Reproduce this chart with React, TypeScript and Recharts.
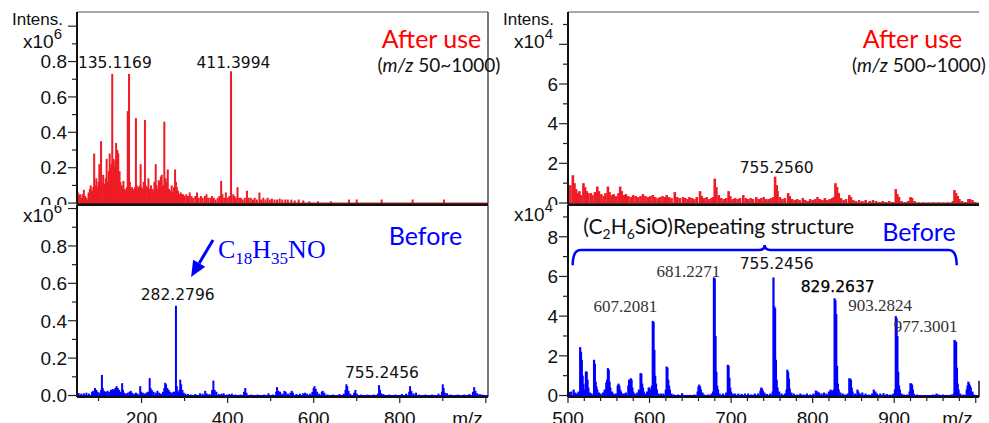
import React from 'react'
import { BarChart, Bar, XAxis, YAxis, ReferenceLine, ReferenceDot, ReferenceArea } from 'recharts'

const RED = '#ee1c25'
const BLUE = '#0000ff'
const SANS = '"Liberation Sans", Arial, sans-serif'
const DEJAVU = '"DejaVu Sans", sans-serif'
const SERIF = '"Liberation Serif", "Times New Roman", serif'
const CAL = 'Lato, "Open Sans", sans-serif'

// after use, m/z 50~1000, intensity x10^6
const afterFull: [number, number][] = [
  [52, 0.06], [55, 0.04], [57, 0.05], [60, 0.03], [63, 0.05], [66, 0.075], [69, 0.04], [72, 0.03], [74, 0.02], [77, 0.06],
  [80, 0.08], [82, 0.1], [85, 0.07], [88, 0.09], [90, 0.28], [93, 0.1], [95, 0.14], [98, 0.09], [100, 0.12], [102, 0.22],
  [104, 0.15], [106, 0.35], [108, 0.12], [111, 0.16], [114, 0.11], [117, 0.14], [119, 0.25], [122, 0.12], [124, 0.18], [126, 0.28],
  [128, 0.2], [130, 0.22], [132, 0.73], [135, 0.25], [137, 0.2], [139, 0.24], [141, 0.34], [144, 0.3], [146, 0.28], [149, 0.18],
  [151, 0.12], [154, 0.1], [156, 0.09], [158, 0.125], [161, 0.08], [163, 0.07], [166, 0.09], [168, 0.52], [171, 0.73], [173, 0.12],
  [175, 0.08], [178, 0.09], [180, 0.07], [183, 0.08], [185, 0.09], [187, 0.48], [189, 0.1], [191, 0.08], [193, 0.09], [196, 0.1],
  [198, 0.22], [200, 0.09], [202, 0.08], [205, 0.12], [208, 0.47], [210, 0.1], [213, 0.09], [216, 0.14], [218, 0.08], [220, 0.07],
  [222, 0.1], [225, 0.08], [228, 0.07], [230, 0.12], [233, 0.22], [235, 0.1], [238, 0.08], [240, 0.13], [243, 0.12], [245, 0.15],
  [247, 0.16], [250, 0.1], [253, 0.46], [256, 0.14], [258, 0.12], [261, 0.19], [264, 0.08], [267, 0.07], [270, 0.1], [273, 0.06],
  [275, 0.09], [278, 0.19], [280, 0.12], [282, 0.09], [285, 0.07], [288, 0.05], [291, 0.06], [294, 0.05], [297, 0.05], [300, 0.04],
  [304, 0.05], [308, 0.04], [312, 0.06], [316, 0.04], [320, 0.03], [325, 0.04], [329, 0.06], [333, 0.03], [338, 0.04], [342, 0.03],
  [347, 0.04], [351, 0.05], [355, 0.03], [360, 0.03], [364, 0.04], [368, 0.03], [372, 0.02], [377, 0.03], [381, 0.04], [385, 0.125],
  [388, 0.05], [392, 0.03], [396, 0.06], [400, 0.03], [404, 0.04], [408, 0.745], [413, 0.05], [416, 0.04], [419, 0.03], [423, 0.09],
  [427, 0.03], [431, 0.03], [435, 0.02], [440, 0.03], [445, 0.07], [449, 0.03], [454, 0.03], [459, 0.02], [463, 0.03], [468, 0.02],
  [474, 0.06], [478, 0.02], [483, 0.03], [488, 0.02], [493, 0.03], [498, 0.02], [503, 0.025], [509, 0.02], [515, 0.02], [521, 0.025],
  [527, 0.02], [534, 0.02], [540, 0.02], [548, 0.02], [556, 0.015], [565, 0.02], [576, 0.015], [590, 0.01], [610, 0.01], [640, 0.01],
  [682, 0.02], [700, 0.02], [758, 0.02], [830, 0.02], [903, 0.02],
]

// after use, m/z 500~1000, intensity x10^4
const afterHigh: [number, number][] = [
  [500, 0.5], [503, 0.9], [506, 1.4], [508, 1.0], [510, 0.7], [512, 0.5], [514, 0.6], [516, 0.4], [519, 1.0], [521, 0.8],
  [523, 0.6], [525, 0.5], [528, 0.5], [530, 0.4], [533, 0.55], [536, 0.83], [538, 0.6], [541, 0.45], [544, 0.35], [546, 0.5],
  [549, 0.83], [551, 0.55], [554, 0.4], [556, 0.45], [559, 0.35], [562, 0.5], [564, 0.83], [566, 0.6], [569, 0.4], [571, 0.45],
  [574, 0.35], [577, 0.3], [580, 0.4], [583, 0.35], [586, 0.3], [589, 0.35], [592, 0.45], [595, 0.35], [598, 0.3], [601, 0.35],
  [604, 0.4], [607, 0.3], [610, 0.25], [613, 0.3], [616, 0.35], [619, 0.3], [621, 0.4], [624, 0.3], [627, 0.25], [631, 0.55],
  [634, 0.3], [637, 0.25], [641, 0.3], [644, 0.25], [647, 0.2], [649, 0.3], [652, 0.25], [655, 0.2], [658, 0.3], [662, 0.6],
  [664, 0.35], [667, 0.25], [670, 0.3], [673, 0.2], [676, 0.25], [678, 0.3], [680, 1.23], [682, 0.8], [685, 0.4], [688, 0.25],
  [691, 0.2], [694, 0.25], [697, 0.6], [699, 0.35], [702, 0.2], [705, 0.25], [708, 0.2], [711, 0.25], [715, 0.4], [718, 0.25],
  [721, 0.2], [724, 0.25], [727, 0.2], [731, 0.3], [734, 0.2], [737, 0.25], [740, 0.3], [743, 0.2], [746, 0.2], [749, 0.25],
  [752, 0.3], [754, 1.33], [756, 0.9], [757, 0.6], [760, 0.3], [763, 0.2], [766, 0.25], [770, 0.5], [772, 0.35], [775, 0.2],
  [778, 0.15], [781, 0.2], [784, 0.15], [788, 0.25], [791, 0.15], [794, 0.1], [797, 0.2], [800, 0.15], [803, 0.2], [806, 0.3],
  [809, 0.2], [812, 0.15], [815, 0.25], [818, 0.15], [821, 0.2], [824, 0.25], [826, 0.3], [828, 1.0], [830, 0.8], [832, 0.5],
  [835, 0.25], [838, 0.15], [841, 0.2], [845, 0.4], [847, 0.3], [850, 0.15], [853, 0.1], [857, 0.15], [861, 0.1], [865, 0.15],
  [870, 0.1], [874, 0.15], [878, 0.1], [882, 0.05], [886, 0.1], [890, 0.05], [894, 0.1], [898, 0.05], [902, 0.7], [904, 0.45],
  [906, 0.3], [909, 0.1], [913, 0.05], [917, 0.1], [920, 0.3], [922, 0.25], [925, 0.1], [930, 0.03], [936, 0.03], [942, 0.02],
  [948, 0.03], [954, 0.03], [960, 0.02], [966, 0.03], [972, 0.1], [974, 0.65], [976, 0.5], [978, 0.35], [980, 0.2], [983, 0.1],
  [987, 0.05], [991, 0.2], [993, 0.2], [996, 0.15], [999, 0.05],
]

// before, m/z 50~1000, intensity x10^6
const beforeFull: [number, number][] = [
  [54, 0.013], [60, 0.01], [66, 0.012], [72, 0.015], [78, 0.01], [85, 0.02], [88, 0.025], [92, 0.04], [95, 0.03], [98, 0.02],
  [102, 0.015], [106, 0.03], [108, 0.11], [110, 0.04], [113, 0.025], [117, 0.02], [121, 0.025], [125, 0.02], [129, 0.03], [133, 0.035],
  [136, 0.03], [139, 0.04], [142, 0.05], [145, 0.04], [148, 0.03], [152, 0.02], [155, 0.066], [157, 0.03], [160, 0.015], [164, 0.01],
  [168, 0.015], [172, 0.02], [175, 0.025], [178, 0.015], [183, 0.01], [187, 0.015], [191, 0.01], [197, 0.05], [199, 0.02], [203, 0.015],
  [207, 0.01], [211, 0.015], [215, 0.02], [219, 0.093], [221, 0.04], [224, 0.03], [228, 0.02], [233, 0.015], [237, 0.025], [241, 0.015],
  [245, 0.01], [250, 0.02], [253, 0.04], [255, 0.068], [257, 0.06], [260, 0.04], [263, 0.03], [266, 0.02], [270, 0.015], [274, 0.02],
  [277, 0.02], [280, 0.48], [282, 0.05], [285, 0.02], [288, 0.03], [290, 0.085], [292, 0.06], [295, 0.03], [298, 0.015], [302, 0.01],
  [308, 0.008], [315, 0.005], [325, 0.008], [336, 0.012], [342, 0.01], [348, 0.025], [352, 0.01], [358, 0.008], [364, 0.03], [367, 0.08],
  [370, 0.03], [374, 0.02], [380, 0.008], [386, 0.01], [391, 0.012], [398, 0.005], [404, 0.008], [410, 0.01], [418, 0.005], [430, 0.005],
  [438, 0.02], [441, 0.04], [444, 0.015], [455, 0.005], [470, 0.005], [485, 0.005], [495, 0.012], [505, 0.005], [513, 0.02], [515, 0.045],
  [518, 0.025], [522, 0.02], [527, 0.01], [532, 0.025], [535, 0.02], [540, 0.01], [546, 0.015], [549, 0.025], [552, 0.015], [560, 0.008],
  [568, 0.01], [575, 0.012], [580, 0.015], [585, 0.01], [592, 0.01], [597, 0.02], [600, 0.04], [602, 0.05], [605, 0.035], [608, 0.02],
  [613, 0.01], [619, 0.02], [621, 0.025], [625, 0.015], [632, 0.005], [645, 0.005], [660, 0.008], [670, 0.01], [674, 0.03], [676, 0.06],
  [678, 0.05], [681, 0.025], [685, 0.01], [694, 0.015], [697, 0.03], [700, 0.01], [710, 0.005], [725, 0.005], [740, 0.005], [749, 0.01],
  [752, 0.055], [754, 0.03], [757, 0.012], [762, 0.008], [775, 0.005], [790, 0.005], [805, 0.008], [815, 0.01], [822, 0.02], [824, 0.05],
  [827, 0.025], [832, 0.012], [838, 0.015], [845, 0.005], [860, 0.005], [875, 0.005], [890, 0.01], [898, 0.02], [900, 0.06], [902, 0.04],
  [905, 0.015], [910, 0.012], [918, 0.005], [935, 0.005], [950, 0.005], [962, 0.008], [970, 0.02], [973, 0.045], [976, 0.025], [980, 0.012],
  [986, 0.008], [992, 0.005],
]

// before, m/z 500~1000, intensity x10^4
const beforeHigh: [number, number][] = [
  [502, 0.17], [504, 0.2], [507, 0.3], [509, 0.15], [511, 0.1], [513, 0.2], [515, 2.44], [516, 2.2], [517, 1.8], [518, 1.0],
  [519, 0.6], [520, 0.3], [522, 1.21], [523, 1.2], [524, 0.8], [525, 0.4], [527, 0.15], [529, 0.1], [532, 1.8], [533, 1.6],
  [534, 0.7], [535, 0.45], [536, 0.3], [538, 0.15], [540, 0.1], [543, 0.15], [545, 0.3], [547, 0.65], [548, 0.8], [549, 1.38],
  [550, 1.3], [551, 0.7], [552, 0.4], [554, 0.2], [556, 0.1], [559, 0.1], [561, 0.5], [562, 0.6], [563, 0.5], [564, 0.3],
  [565, 0.2], [567, 0.1], [569, 0.1], [571, 0.15], [574, 0.5], [575, 0.8], [576, 0.75], [577, 0.87], [578, 0.8], [579, 0.4],
  [580, 0.2], [582, 0.1], [585, 0.15], [587, 0.3], [589, 1.13], [590, 1.1], [591, 0.6], [592, 0.4], [593, 0.2], [595, 0.1],
  [597, 0.2], [599, 0.4], [600, 0.4], [601, 0.3], [603, 0.5], [604, 3.76], [605, 3.7], [606, 2.3], [607, 1.0], [608, 0.6],
  [609, 0.3], [611, 0.1], [614, 0.1], [617, 0.1], [620, 0.3], [621, 1.46], [622, 1.4], [623, 0.8], [624, 0.5], [625, 0.3],
  [627, 0.1], [630, 0.05], [635, 0.05], [640, 0.12], [645, 0.03], [650, 0.03], [655, 0.05], [659, 0.2], [660, 0.45], [661, 0.55],
  [662, 0.45], [663, 0.3], [665, 0.15], [667, 0.05], [672, 0.05], [676, 0.1], [678, 0.2], [679, 5.95], [680, 5.9], [681, 3.0],
  [682, 1.2], [683, 0.5], [684, 0.3], [686, 0.1], [690, 0.1], [694, 0.15], [696, 1.55], [697, 1.5], [698, 0.9], [699, 0.4],
  [700, 0.2], [702, 0.1], [705, 0.1], [709, 0.1], [713, 0.08], [717, 0.1], [721, 0.1], [725, 0.05], [729, 0.1], [733, 0.1],
  [736, 0.25], [737, 0.4], [738, 0.35], [739, 0.25], [741, 0.15], [744, 0.08], [748, 0.1], [751, 0.2], [752, 5.95], [753, 4.5],
  [754, 4.4], [755, 1.8], [756, 0.8], [757, 0.4], [759, 0.2], [762, 0.1], [766, 0.1], [768, 0.3], [769, 1.3], [770, 1.2],
  [771, 0.85], [772, 0.35], [774, 0.15], [777, 0.1], [781, 0.05], [785, 0.1], [789, 0.05], [793, 0.1], [797, 0.05], [801, 0.1],
  [804, 0.25], [806, 0.2], [808, 0.15], [811, 0.1], [814, 0.15], [817, 0.1], [820, 0.2], [822, 0.3], [824, 0.25], [826, 0.3],
  [827, 4.9], [828, 4.8], [829, 4.1], [830, 1.5], [831, 0.6], [832, 0.3], [834, 0.15], [837, 0.1], [840, 0.05], [843, 0.1],
  [845, 0.87], [846, 0.85], [847, 0.8], [848, 0.4], [849, 0.2], [852, 0.1], [855, 0.3], [856, 0.2], [858, 0.1], [861, 0.15],
  [865, 0.1], [869, 0.05], [873, 0.1], [875, 0.3], [877, 0.2], [879, 0.1], [883, 0.1], [887, 0.12], [891, 0.08], [895, 0.05],
  [899, 0.1], [901, 0.3], [902, 4.0], [903, 3.9], [904, 3.0], [905, 1.2], [906, 0.5], [907, 0.3], [909, 0.1], [912, 0.05],
  [916, 0.05], [919, 0.2], [920, 0.62], [921, 0.6], [922, 0.55], [923, 0.3], [924, 0.1], [928, 0.05], [935, 0.02], [942, 0.02],
  [948, 0.05], [952, 0.1], [955, 0.05], [960, 0.05], [965, 0.03], [970, 0.05], [973, 0.1], [974, 2.8], [975, 2.75], [976, 2.7],
  [977, 1.4], [978, 0.6], [979, 0.3], [981, 0.1], [985, 0.05], [989, 0.3], [990, 0.5], [991, 0.7], [992, 0.6], [993, 0.5],
  [994, 0.4], [996, 0.2], [998, 0.05],
]

const fullXTicks = [100, 200, 300, 400, 500, 600, 700, 800, 900, 1000]
const fullXLabels = ['', '200', '', '400', '', '600', '', '800', '', 'm/z']
const highXTicks = [500, 520, 540, 560, 580, 600, 620, 640, 660, 680, 700, 720, 740, 760, 780, 800, 820, 840, 860, 880, 900, 920, 940, 960, 980, 1000]
const highXLabels = ['500', '', '', '', '', '600', '', '', '', '', '700', '', '', '', '', '800', '', '', '', '', '900', '', '', '', '', 'm/z']
const fullYTicks = [0, 0.1, 0.2, 0.3, 0.4, 0.5, 0.6, 0.7, 0.8, 0.9, 1.0]
const fullYLabels = ['0.0', '', '0.2', '', '0.4', '', '0.6', '', '0.8', '', '']
const highYTicks = [0, 1, 2, 3, 4, 5, 6, 7, 8, 9]
const afterHighYLabels = ['0', '', '2', '', '4', '', '6', '', '', '']
const beforeHighYLabels = ['0', '', '2', '', '4', '', '6', '', '8', '']

type Title = { at: number; text?: string; exp?: string; dy: number }

const toRows = (pts: [number, number][]) => pts.map(([mz, v]) => ({ mz, v }))

function makeYTick(labels: string[], titles: Title[]) {
  return function YTick(props: any) {
    const { x, y, index } = props
    const ax = x + 10
    const label = labels[index] || ''
    const major = index % 2 === 0
    const title = titles.find((t) => t.at === index)
    return (
      <g>
        <line x1={ax - (major ? 9 : 5)} x2={ax} y1={y} y2={y} stroke="#222" strokeWidth={1.2} />
        {label && (
          <text x={x} y={y + 6.8} textAnchor="end" fontSize={19} fontFamily={SANS} fill="#111">
            {label}
          </text>
        )}
        {title && title.text && (
          <text x={ax - 14} y={y + title.dy} textAnchor="end" fontSize={17} fontFamily={SANS} fill="#111">
            {title.text}
          </text>
        )}
        {title && title.exp && (
          <text x={ax - 54} y={y + title.dy} fontSize={19} fontFamily={SANS} fill="#111">
            x10<tspan dy={-9} fontSize={15}>{title.exp}</tspan>
          </text>
        )}
      </g>
    )
  }
}

function makeXTick(labels: string[]) {
  return function XTick(props: any) {
    const { x, y, index } = props
    const ay = y - 8
    const label = labels[index] || ''
    const end = label === 'm/z'
    return (
      <g>
        <line x1={x} x2={x} y1={ay} y2={ay + (label ? 6 : 4)} stroke="#222" strokeWidth={1.2} />
        {label && (
          <text x={end ? x - 3 : x} y={ay + 28} textAnchor={end ? 'end' : 'middle'} fontSize={19} fontFamily={SANS} fill="#111">
            {label}
          </text>
        )}
      </g>
    )
  }
}

// label content drawn at a data point
const note = (content: React.ReactNode, style: any) => (p: any) => {
  const vb = p.viewBox || p
  return (
    <text x={vb.x + (vb.width || 0) / 2} y={vb.y + (vb.height || 0) / 2} {...style}>
      {content}
    </text>
  )
}

const numStyle = { textAnchor: 'middle', fontSize: 15.5, fontFamily: DEJAVU, fill: '#111' }
const serifStyle = { textAnchor: 'middle', fontSize: 17, fontFamily: SERIF, fill: '#333' }

const Arrow = (p: any) => {
  const { x1, y1, x2, y2 } = p
  const a = Math.atan2(y2 - y1, x2 - x1)
  const bx = x2 - 16 * Math.cos(a)
  const by = y2 - 16 * Math.sin(a)
  const px = -Math.sin(a) * 7
  const py = Math.cos(a) * 7
  return (
    <g>
      <line x1={x1} y1={y1} x2={bx} y2={by} stroke={BLUE} strokeWidth={3} />
      <path d={`M${x2},${y2}L${bx + px},${by + py}L${bx - px},${by - py}Z`} fill={BLUE} />
    </g>
  )
}

const Brace = (p: any) => {
  const { x, y, width, height } = p
  const cx = x + width / 2
  const ly = y + 5
  const d = `M${x},${y + height} Q${x},${ly} ${x + 8},${ly} L${cx - 6},${ly} Q${cx},${ly} ${cx},${y} Q${cx},${ly} ${cx + 6},${ly} L${x + width - 8},${ly} Q${x + width},${ly} ${x + width},${y + height}`
  return <path d={d} fill="none" stroke={BLUE} strokeWidth={2.5} />
}

function Spectrum(props: any) {
  const { data, color, width, height, margin, xDomain, yDomain, xTicks, xLabels, yTicks, yLabels, titles, yWidth, showX, barW, children } = props
  return (
    <BarChart width={width} height={height} data={toRows(data)} margin={margin}>
      <XAxis
        type="number"
        dataKey="mz"
        domain={xDomain}
        allowDataOverflow
        hide={!showX}
        ticks={xTicks}
        interval={0}
        tickLine={false}
        tickSize={6}
        tickMargin={2}
        height={26}
        axisLine={{ stroke: '#111', strokeWidth: 2 }}
        tick={makeXTick(xLabels)}
      />
      <YAxis
        type="number"
        domain={yDomain}
        allowDataOverflow
        ticks={yTicks}
        interval={0}
        width={yWidth}
        tickLine={false}
        tickSize={9}
        tickMargin={1}
        axisLine={{ stroke: '#111', strokeWidth: 2 }}
        tick={makeYTick(yLabels, titles)}
      />
      <ReferenceLine y={0} stroke={color} strokeWidth={1.2} />
      <Bar
        dataKey="v"
        fill={color}
        barSize={2}
        isAnimationActive={false}
        shape={(p: any) => (
          <rect x={p.x + p.width / 2 - barW / 2} y={p.y} width={barW} height={Math.max(p.height, 0)} fill={color} />
        )}
      />
      {children}
    </BarChart>
  )
}

export default function App() {
  return (
    <div style={{ position: 'absolute', left: 0, top: 0, width: 989, height: 423, background: '#fff', overflow: 'hidden' }}>
      <div style={{ position: 'absolute', left: 0, top: 0 }}>
        <Spectrum
          data={afterFull}
          color={RED}
          barW={2}
          width={510}
          height={210}
          margin={{ top: 12, right: 22, bottom: 5.5, left: 0 }}
          xDomain={[50, 1005]}
          yDomain={[-0.008, 1.08]}
          xTicks={fullXTicks}
          xLabels={fullXLabels}
          yTicks={fullYTicks}
          yLabels={fullYLabels}
          titles={[{ at: 10, text: 'Intens.', dy: -1 }, { at: 9, exp: '6', dy: 4.5 }]}
          yWidth={77}
          showX={false}
        >
          <ReferenceLine y={1.08} stroke="#555" strokeWidth={1} />
          <ReferenceLine x={1005} stroke="#222" strokeWidth={1.2} />
          <ReferenceLine y={-0.008} stroke="#111" strokeWidth={2.5} />
          <ReferenceDot x={138} y={0.766} r={0} label={note('135.1169', numStyle)} />
          <ReferenceDot x={413.6} y={0.766} r={0} label={note('411.3994', numStyle)} />
          <ReferenceDot
            x={873.7}
            y={0.876}
            r={0}
            label={note('After use', { textAnchor: 'middle', fontSize: 25, fontFamily: CAL, fill: '#ff0000' })}
          />
          <ReferenceDot
            x={891}
            y={0.741}
            r={0}
            label={note(
              <>
                (<tspan fontStyle="italic">m/z</tspan> 50~1000)
              </>,
              { textAnchor: 'middle', fontSize: 19, fontFamily: CAL, fill: '#111' }
            )}
          />
        </Spectrum>
      </div>
      <div style={{ position: 'absolute', left: 490, top: 0 }}>
        <Spectrum
          data={afterHigh}
          color={RED}
          barW={2.6}
          width={499}
          height={210}
          margin={{ top: 12, right: 10, bottom: 5.5, left: 0 }}
          xDomain={[500, 1004]}
          yDomain={[-0.075, 9.63]}
          xTicks={highXTicks}
          xLabels={highXLabels}
          yTicks={highYTicks}
          yLabels={afterHighYLabels}
          titles={[{ at: 9, text: 'Intens.', dy: 0.5 }, { at: 8, exp: '4', dy: 4 }]}
          yWidth={78}
          showX={false}
        >
          <ReferenceLine y={9.63} stroke="#555" strokeWidth={1} />
          <ReferenceLine y={-0.075} stroke="#111" strokeWidth={2.5} />
          <ReferenceDot x={755.9} y={1.53} r={0} label={note('755.2560', numStyle)} />
          <ReferenceDot
            x={922.4}
            y={7.82}
            r={0}
            label={note('After use', { textAnchor: 'middle', fontSize: 25, fontFamily: CAL, fill: '#ff0000' })}
          />
          <ReferenceDot
            x={930.4}
            y={6.61}
            r={0}
            label={note(
              <>
                (<tspan fontStyle="italic">m/z</tspan> 500~1000)
              </>,
              { textAnchor: 'middle', fontSize: 19, fontFamily: CAL, fill: '#111' }
            )}
          />
        </Spectrum>
      </div>
      <div style={{ position: 'absolute', left: 0, top: 205, width: 989, height: 218, background: '#fff' }}>
        <div style={{ position: 'absolute', left: 0, top: 0 }}>
          <Spectrum
            data={beforeFull}
            color={BLUE}
            barW={2}
            width={510}
            height={218}
            margin={{ top: 0, right: 22, bottom: 0, left: 0 }}
            xDomain={[50, 1005]}
            yDomain={[-0.008, 1.019]}
            xTicks={fullXTicks}
            xLabels={fullXLabels}
            yTicks={fullYTicks}
            yLabels={fullYLabels}
            titles={[{ at: 10, exp: '6', dy: 13 }]}
            yWidth={77}
            showX
          >
            <ReferenceLine y={1.019} stroke="#111" strokeWidth={2} />
            <ReferenceLine x={1005} stroke="#222" strokeWidth={1.2} />
            <ReferenceDot x={284} y={0.511} r={0} label={note('282.2796', numStyle)} />
            <ReferenceDot x={758.6} y={0.092} r={0} label={note('755.2456', numStyle)} />
            <ReferenceDot
              x={859.7}
              y={0.805}
              r={0}
              label={note('Before', { textAnchor: 'middle', fontSize: 25, fontFamily: CAL, fill: BLUE })}
            />
            <ReferenceDot
              x={377.6}
              y={0.734}
              r={0}
              label={note(
                <>
                  C<tspan fontSize={17} dy={6}>18</tspan>
                  <tspan dy={-6}>H</tspan>
                  <tspan fontSize={17} dy={6}>35</tspan>
                  <tspan dy={-6}>NO</tspan>
                </>,
                { textAnchor: 'start', fontSize: 26, fontFamily: SERIF, fill: BLUE }
              )}
            />
            <ReferenceLine segment={[{ x: 366, y: 0.832 }, { x: 315, y: 0.634 }]} shape={Arrow} />
          </Spectrum>
        </div>
        <div style={{ position: 'absolute', left: 490, top: 0 }}>
          <Spectrum
            data={beforeHigh}
            color={BLUE}
            barW={2.2}
            width={499}
            height={218}
            margin={{ top: 0, right: 10, bottom: 0, left: 0 }}
            xDomain={[500, 1004]}
            yDomain={[-0.075, 9.6]}
            xTicks={highXTicks}
            xLabels={highXLabels}
            yTicks={highYTicks}
            yLabels={beforeHighYLabels}
            titles={[{ at: 9, exp: '4', dy: 4 }]}
            yWidth={78}
            showX
          >
            <ReferenceLine y={9.6} stroke="#111" strokeWidth={2} />
            <ReferenceLine segment={[{ x: 1004, y: -0.075 }, { x: 1004, y: 0.75 }]} stroke="#111" strokeWidth={1.5} />
            <ReferenceArea x1={505.8} x2={976.6} y1={6.57} y2={7.58} shape={Brace} />
            <ReferenceDot
              x={518.8}
              y={8.14}
              r={0}
              label={note(
                <>
                  (C<tspan fontSize={14} dy={5}>2</tspan>
                  <tspan dy={-5}>H</tspan>
                  <tspan fontSize={14} dy={5}>6</tspan>
                  <tspan dy={-5}>SiO)Repeating structure</tspan>
                </>,
                { textAnchor: 'start', fontSize: 21, fontFamily: CAL, fill: '#111' }
              )}
            />
            <ReferenceDot
              x={930.4}
              y={7.78}
              r={0}
              label={note('Before', { textAnchor: 'middle', fontSize: 25, fontFamily: CAL, fill: BLUE })}
            />
            <ReferenceDot x={570.3} y={4.19} r={0} label={note('607.2081', serifStyle)} />
            <ReferenceDot x={647.5} y={5.95} r={0} label={note('681.2271', serifStyle)} />
            <ReferenceDot x={755.9} y={6.36} r={0} label={note('755.2456', numStyle)} />
            <ReferenceDot
              x={830.7}
              y={5.23}
              r={0}
              label={note('829.2637', { ...numStyle, fill: '#000', stroke: '#000', strokeWidth: 0.25 })}
            />
            <ReferenceDot x={882.6} y={4.27} r={0} label={note('903.2824', serifStyle)} />
            <ReferenceDot x={938.6} y={3.18} r={0} label={note('977.3001', serifStyle)} />
          </Spectrum>
        </div>
      </div>
    </div>
  )
}
